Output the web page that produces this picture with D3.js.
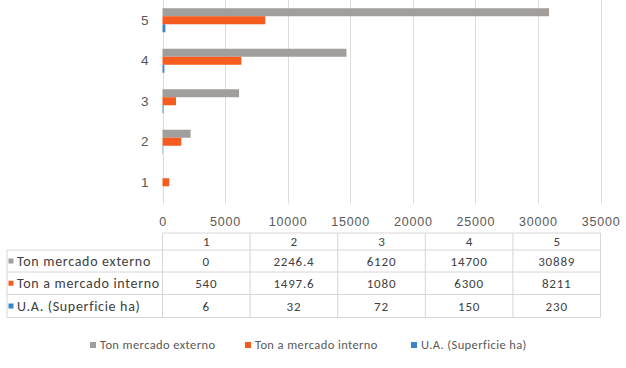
<!DOCTYPE html>
<html>
<head>
<meta charset="utf-8">
<script src="https://cdn.jsdelivr.net/npm/d3@7"></script>
<style>
  body { margin: 0; background: #fff; }
  svg { font-family: Carlito, Lato, "Liberation Sans", sans-serif; }
</style>
</head>
<body>
<div id="chart"></div>
<script>
const categories = ["1", "2", "3", "4", "5"];
const seriesNames = ["Ton mercado externo", "Ton a mercado interno", "U.A. (Superficie ha)"];
const externo = [0, 2246.4, 6120, 14700, 30889];
const interno = [540, 1497.6, 1080, 6300, 8211];
const superficie = [6, 32, 72, 150, 230];
const xTicks = [0, 5000, 10000, 15000, 20000, 25000, 30000, 35000];

const colors = ["#a19e9c", "#f65b1f", "#3b86c4"];
const seriesValues = [externo, interno, superficie];

const width = 626, height = 368;
const plotLeft = 162.5, plotRight = 600.5, plotTop = 0, plotBottom = 202.5;

const svg = d3.select("#chart").append("svg")
    .attr("width", width)
    .attr("height", height);

// scales
const x = d3.scaleLinear()
    .domain([0, 35000])
    .range([plotLeft, plotRight]);

const y = d3.scaleBand()
    .domain(categories.slice().reverse())
    .range([plotTop, plotBottom])
    .paddingInner(0.407)
    .paddingOuter(0.2035);

const ySub = d3.scaleBand()
    .domain(seriesNames)
    .range([0, y.bandwidth()]);

// gridlines
svg.append("g")
    .selectAll("line")
    .data(xTicks)
    .join("line")
    .attr("x1", d => Math.round(x(d)) + 0.5)
    .attr("x2", d => Math.round(x(d)) + 0.5)
    .attr("y1", plotTop)
    .attr("y2", plotBottom + 1)
    .attr("stroke", "#dcdcdc")
    .attr("stroke-width", 1);

// bars
const data = [];
categories.forEach((c, i) => {
    seriesNames.forEach((s, j) => {
        data.push({cat: c, series: s, value: seriesValues[j][i], color: colors[j]});
    });
});

svg.append("g")
    .selectAll("rect")
    .data(data)
    .join("rect")
    .attr("x", x(0))
    .attr("y", d => y(d.cat) + ySub(d.series))
    .attr("width", d => Math.max(0, x(d.value) - x(0)))
    .attr("height", ySub.bandwidth())
    .attr("fill", d => d.color);

// x axis labels
const xAxis = svg.append("g")
    .attr("transform", `translate(0,${plotBottom + 19})`)
    .call(d3.axisBottom(x).tickValues(xTicks).tickSize(0).tickPadding(0).tickFormat(d3.format("d")));
xAxis.select(".domain").remove();
xAxis.selectAll("text")
    .attr("dy", "0.35em")
    .attr("font-size", "12.5px")
    .attr("letter-spacing", "0.8px")
    .attr("font-family", null)
    .attr("fill", "#595959");

// y axis labels
const yAxis = svg.append("g")
    .attr("transform", `translate(${plotLeft - 14},0)`)
    .call(d3.axisLeft(y).tickSize(0).tickPadding(0));
yAxis.select(".domain").remove();
yAxis.selectAll("text")
    .attr("font-size", "13.5px")
    .attr("font-family", null)
    .attr("fill", "#595959");

// data table
const tableLeft = 7;
const rowLines = [233, 250, 272, 294.5, 317.5];
const colW = (x(35000) - x(0)) / categories.length;
const colX = categories.map((c, i) => x(0) + colW * i);
const tbl = svg.append("g");
const border = "#d6d6d6";

// horizontal lines
rowLines.forEach((ly, i) => {
    tbl.append("line")
        .attr("x1", i === 0 ? plotLeft : tableLeft)
        .attr("x2", plotRight)
        .attr("y1", ly).attr("y2", ly)
        .attr("stroke", border);
});
// vertical lines
tbl.append("line")
    .attr("x1", tableLeft).attr("x2", tableLeft)
    .attr("y1", rowLines[1]).attr("y2", rowLines[4])
    .attr("stroke", border);
categories.forEach((c, i) => {
    tbl.append("line")
        .attr("x1", colX[i]).attr("x2", colX[i])
        .attr("y1", rowLines[0]).attr("y2", rowLines[4])
        .attr("stroke", border);
});
tbl.append("line")
    .attr("x1", plotRight).attr("x2", plotRight)
    .attr("y1", rowLines[0]).attr("y2", rowLines[4])
    .attr("stroke", border);

// header
tbl.selectAll("text.hdr")
    .data(categories)
    .join("text")
    .attr("class", "hdr")
    .attr("x", (d, i) => colX[i] + colW / 2)
    .attr("y", (rowLines[0] + rowLines[1]) / 2)
    .attr("dy", "0.35em")
    .attr("text-anchor", "middle")
    .attr("font-size", "13px")
    .attr("fill", "#404040")
    .text(d => d);

// rows
seriesNames.forEach((s, j) => {
    const cy = (rowLines[j + 1] + rowLines[j + 2]) / 2;
    tbl.append("rect")
        .attr("x", 8.5).attr("y", cy - 2.5)
        .attr("width", 5).attr("height", 5)
        .attr("fill", colors[j]);
    tbl.append("text")
        .attr("x", 17)
        .attr("y", cy)
        .attr("dy", "0.35em")
        .attr("font-size", "14px")
        .attr("letter-spacing", "0.7px")
        .attr("fill", "#404040")
        .text(s);
    tbl.selectAll(null)
        .data(seriesValues[j])
        .join("text")
        .attr("x", (d, i) => colX[i] + colW / 2)
        .attr("y", cy)
        .attr("dy", "0.35em")
        .attr("text-anchor", "middle")
        .attr("font-size", "13px")
        .attr("letter-spacing", "0.8px")
        .attr("fill", "#404040")
        .text(d => d);
});

// legend
const legendX = [90, 245, 411];
const legend = svg.append("g").attr("transform", "translate(0,345)");
seriesNames.forEach((s, j) => {
    legend.append("rect")
        .attr("x", legendX[j]).attr("y", -3)
        .attr("width", 6).attr("height", 6)
        .attr("fill", colors[j]);
    legend.append("text")
        .attr("x", legendX[j] + 10)
        .attr("y", 0)
        .attr("dy", "0.35em")
        .attr("font-size", "12.5px")
        .attr("letter-spacing", "0.4px")
        .attr("fill", "#595959")
        .text(s);
});
</script>
</body>
</html>
